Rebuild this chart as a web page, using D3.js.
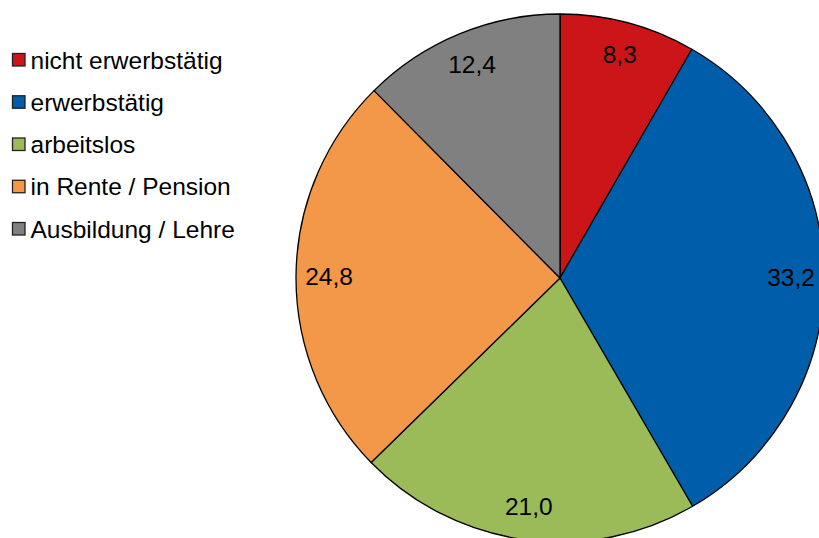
<!DOCTYPE html>
<html><head><meta charset="utf-8">
<script src="https://cdn.jsdelivr.net/npm/d3@7"></script>
<style>html,body{margin:0;padding:0;background:#fff;overflow:hidden}</style>
</head><body>
<svg id="c" width="819" height="538"></svg>
<script>
const categories = ["nicht erwerbstätig","erwerbstätig","arbeitslos","in Rente / Pension","Ausbildung / Lehre"];
const values = [8.3, 33.2, 21.0, 24.8, 12.4];
const labels = ["8,3","33,2","21,0","24,8","12,4"];
const colors = ["#CC1518","#005DAA","#9BBB59","#F39848","#808080"];

const svg = d3.select("#c");
const cx = 560, cy = 278, r = 264;
const pie = d3.pie().sort(null).value(d => d)(values);
const arc = d3.arc().innerRadius(0).outerRadius(r);
const labelArc = d3.arc().innerRadius(r*0.875).outerRadius(r*0.875);
const g = svg.append("g").attr("transform", `translate(${cx},${cy})`);
g.selectAll("path").data(pie).join("path")
  .attr("d", arc).attr("fill", (d,i) => colors[i])
  .attr("stroke", "#000").attr("stroke-width", 1.3).attr("stroke-linejoin","round");
g.selectAll("text").data(pie).join("text")
  .attr("transform", d => `translate(${labelArc.centroid(d)})`)
  .attr("text-anchor","middle").attr("y", 8.5)
  .attr("font-family","Liberation Sans, Arial, sans-serif").attr("font-size",24.5)
  .attr("fill","#000").text((d,i) => labels[i]);

const leg = svg.append("g");
const rowY = d3.scalePoint().domain(categories).range([60, 229]);
const items = leg.selectAll("g").data(categories).join("g")
  .attr("transform", d => `translate(0,${rowY(d)})`);
items.append("rect").attr("x", 12.5).attr("y", -6.5).attr("width", 12.5).attr("height", 12.5)
  .attr("fill", (d,i) => colors[i]).attr("stroke", "#222").attr("stroke-width", 1.3);
items.append("text").attr("x", 30.5).attr("y", 0).attr("dominant-baseline","central")
  .attr("font-family","Liberation Sans, Arial, sans-serif").attr("font-size",24.5)
  .attr("fill","#000").text(d => d);
</script>
</body></html>
